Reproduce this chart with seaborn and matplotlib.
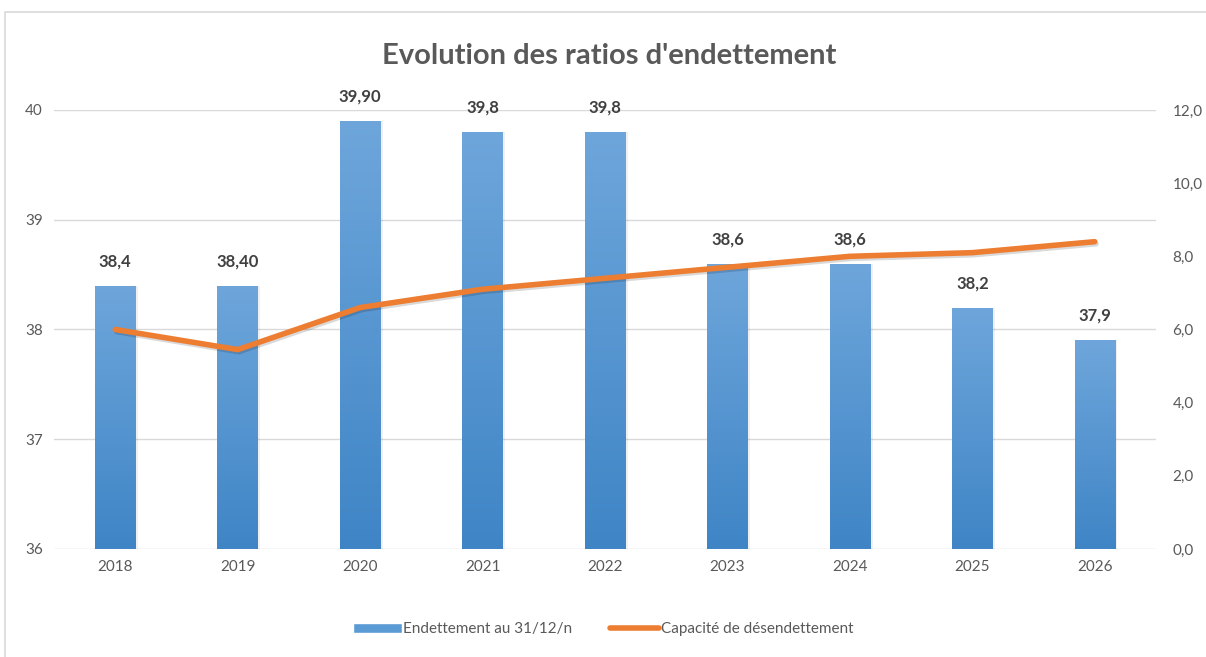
import numpy as np
import pandas as pd
import matplotlib
matplotlib.use("Agg")
import matplotlib.pyplot as plt
import matplotlib.patheffects as pe
from matplotlib.patches import Rectangle
from matplotlib.lines import Line2D
import seaborn as sns

# Data
years = ["2018", "2019", "2020", "2021", "2022", "2023", "2024", "2025", "2026"]
endettement = [38.4, 38.4, 39.9, 39.8, 39.8, 38.6, 38.6, 38.2, 37.9]
bar_labels = ["38,4", "38,40", "39,90", "39,8", "39,8", "38,6", "38,6", "38,2", "37,9"]
capacite = [6.0, 5.45, 6.6, 7.1, 7.4, 7.7, 8.0, 8.1, 8.4]

sns.set_style("white")
plt.rcParams["font.family"] = ["Lato", "DejaVu Sans"]

df = pd.DataFrame({"annee": years, "endettement": endettement})
df_line = pd.DataFrame({"pos": np.arange(len(years)), "capacite": capacite})

fig = plt.figure(figsize=(12.06, 6.57), dpi=100)
ax = fig.add_axes([0.0448, 0.1644, 0.9137, 0.6682])

sns.barplot(data=df, x="annee", y="endettement", color="#5B9BD5", width=0.33, ax=ax)
ax.set_ylim(36, 40)
ax.set_xlim(-0.5, len(years) - 0.5)
ax.set_yticks([36, 37, 38, 39, 40])
ax.set_yticklabels(["36", "37", "38", "39", "40"])
ax.grid(axis="y", color="#D9D9D9", linewidth=1)
ax.set_axisbelow(True)

# gradient fill on bars
grad = np.linspace(0, 1, 256).reshape(-1, 1)
cmap = matplotlib.colors.LinearSegmentedColormap.from_list("bl", ["#3F85C6", "#6EA6DB"])
for p in ax.patches:
    x0, y0 = p.get_x(), p.get_y()
    w, h = p.get_width(), p.get_height()
    p.set_facecolor("none")
    p.set_edgecolor("none")
    im = ax.imshow(grad, cmap=cmap, aspect="auto", origin="lower",
                   extent=[x0, x0 + w, 36, y0 + h], zorder=2)
    im.set_clip_path(p)
    ax.add_patch(Rectangle((x0 + 0.02, 36), w, y0 + h - 36, facecolor="#000000",
                           alpha=0.06, zorder=1.9, edgecolor="none"))

for i, v in enumerate(endettement):
    ax.text(i, v + 0.15, bar_labels[i], ha="center", va="bottom", fontsize=12,
            fontweight="bold", color="#404040")

ax.set_xlabel("")
ax.set_ylabel("")
ax.tick_params(axis="both", length=0, labelsize=11, colors="#595959", pad=8)
for s in ax.spines.values():
    s.set_visible(False)

ax2 = ax.twinx()
sns.lineplot(data=df_line, x="pos", y="capacite", color="#ED7D31", linewidth=4,
             ax=ax2, solid_capstyle="round",
             path_effects=[pe.SimpleLineShadow(offset=(1, -1.5), alpha=0.15),
                           pe.Normal()])
ax2.set_ylim(0, 12)
ax2.set_xlim(-0.5, len(years) - 0.5)
ax2.set_yticks([0, 2, 4, 6, 8, 10, 12])
ax2.set_yticklabels(["0,0", "2,0", "4,0", "6,0", "8,0", "10,0", "12,0"])
ax2.set_ylabel("")
ax2.tick_params(axis="y", length=0, labelsize=11, colors="#595959", pad=12)
for s in ax2.spines.values():
    s.set_visible(False)

fig.text(0.505, 0.915, "Evolution des ratios d'endettement", ha="center", va="center",
         fontsize=21, fontweight="bold", color="#595959")

handles = [Rectangle((0, 0), 1, 1, facecolor="#5B9BD5"),
           Line2D([0], [0], color="#ED7D31", linewidth=4, solid_capstyle="round")]
fig.legend(handles, ["Endettement au 31/12/n", "Capacité de désendettement"],
           loc="center", bbox_to_anchor=(0.5, 0.042), ncol=2, frameon=False,
           fontsize=11, labelcolor="#595959", handlelength=3.2, handletextpad=0.1,
           columnspacing=2.5)

fig.patches.append(Rectangle((0.004, -0.01), 1.0, 0.992, transform=fig.transFigure,
                             fill=False, edgecolor="#D9D9D9", linewidth=1.2))

fig.savefig("out.png", dpi=100)
